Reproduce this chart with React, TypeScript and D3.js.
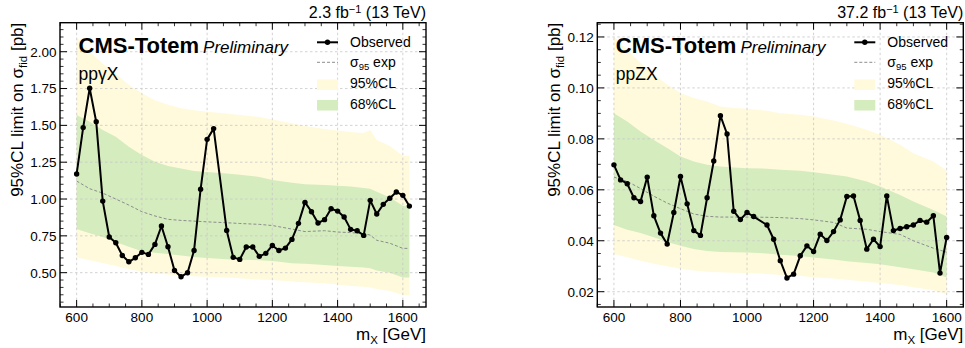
import React from "react";
import * as d3 from "d3";

// ---- ppγX (2.3 fb-1) ----
const gammaMass = [600, 620, 640, 660, 680, 700, 720, 740, 760, 780, 800, 820, 840, 860, 880, 900, 920, 940, 960, 980, 1000, 1020, 1060, 1080, 1100, 1120, 1140, 1160, 1180, 1200, 1220, 1240, 1260, 1280, 1300, 1320, 1340, 1360, 1380, 1400, 1420, 1440, 1460, 1480, 1500, 1520, 1540, 1560, 1580, 1600, 1620];
const gammaObserved = [1.17, 1.485, 1.752, 1.525, 0.986, 0.742, 0.703, 0.617, 0.574, 0.601, 0.638, 0.624, 0.692, 0.817, 0.676, 0.515, 0.472, 0.5, 0.651, 1.066, 1.405, 1.478, 0.787, 0.604, 0.59, 0.674, 0.674, 0.611, 0.631, 0.685, 0.651, 0.667, 0.726, 0.835, 0.977, 0.914, 0.837, 0.86, 0.934, 0.918, 0.878, 0.794, 0.785, 0.753, 0.991, 0.898, 0.964, 1.005, 1.048, 1.025, 0.952];
const gammaBandMass = [600, 640, 680, 720, 760, 800, 840, 880, 920, 960, 1000, 1060, 1100, 1160, 1200, 1260, 1300, 1360, 1400, 1440, 1480, 1500, 1520, 1560, 1600, 1620];
const gammaUp95 = [2.1, 2.0, 1.92, 1.85, 1.775, 1.718, 1.67, 1.64, 1.616, 1.602, 1.593, 1.58, 1.571, 1.557, 1.54, 1.514, 1.495, 1.476, 1.465, 1.455, 1.448, 1.469, 1.4, 1.36, 1.294, 1.294];
const gammaUp68 = [1.571, 1.525, 1.469, 1.423, 1.355, 1.299, 1.253, 1.224, 1.208, 1.19, 1.183, 1.174, 1.165, 1.15, 1.13, 1.11, 1.1, 1.095, 1.09, 1.085, 1.075, 1.07, 1.05, 1.01, 0.955, 0.948];
const gammaLo68 = [0.797, 0.767, 0.742, 0.708, 0.676, 0.645, 0.636, 0.626, 0.616, 0.606, 0.6, 0.591, 0.588, 0.585, 0.58, 0.564, 0.56, 0.552, 0.545, 0.54, 0.535, 0.53, 0.515, 0.5, 0.468, 0.468];
const gammaLo95 = [0.605, 0.585, 0.565, 0.545, 0.525, 0.506, 0.495, 0.487, 0.48, 0.476, 0.472, 0.468, 0.462, 0.453, 0.45, 0.44, 0.435, 0.428, 0.42, 0.41, 0.404, 0.4, 0.39, 0.375, 0.348, 0.348];
const gammaExpected = [1.122, 1.07, 1.04, 1.0, 0.959, 0.914, 0.885, 0.862, 0.855, 0.85, 0.845, 0.839, 0.834, 0.828, 0.82, 0.796, 0.779, 0.785, 0.776, 0.772, 0.765, 0.755, 0.72, 0.7, 0.665, 0.665];
const gammaYTicks = [0.5, 0.75, 1.0, 1.25, 1.5, 1.75, 2.0];

// ---- ppZX (37.2 fb-1) ----
const zMass = [600, 620, 640, 660, 680, 700, 720, 740, 760, 780, 800, 820, 840, 860, 880, 900, 920, 940, 960, 980, 1000, 1020, 1060, 1080, 1100, 1120, 1140, 1160, 1180, 1200, 1220, 1240, 1260, 1280, 1300, 1320, 1340, 1360, 1380, 1400, 1420, 1440, 1460, 1480, 1500, 1520, 1540, 1560, 1580, 1600];
const zObserved = [0.0698, 0.0639, 0.0624, 0.0569, 0.0554, 0.065, 0.0498, 0.043, 0.0387, 0.0511, 0.0652, 0.0545, 0.044, 0.0421, 0.0569, 0.0713, 0.0891, 0.0819, 0.0516, 0.0483, 0.0511, 0.0495, 0.0462, 0.0406, 0.0322, 0.0254, 0.0269, 0.0341, 0.038, 0.0358, 0.0426, 0.0401, 0.0436, 0.0482, 0.0574, 0.0576, 0.048, 0.0367, 0.0406, 0.0377, 0.0576, 0.044, 0.0448, 0.0455, 0.0462, 0.048, 0.0473, 0.0498, 0.0273, 0.0413];
const zBandMass = [600, 640, 680, 720, 760, 800, 840, 880, 920, 960, 1000, 1060, 1100, 1160, 1200, 1260, 1300, 1360, 1400, 1460, 1500, 1560, 1600];
const zUp95 = [0.1202, 0.115, 0.1098, 0.1052, 0.1013, 0.098, 0.096, 0.0947, 0.0927, 0.0921, 0.0918, 0.091, 0.0901, 0.0895, 0.0888, 0.0872, 0.0859, 0.0836, 0.0816, 0.0777, 0.0744, 0.0711, 0.0676];
const zUp68 = [0.0901, 0.0868, 0.0829, 0.0796, 0.0764, 0.0731, 0.0711, 0.0698, 0.0692, 0.0688, 0.0685, 0.0683, 0.0679, 0.0675, 0.0669, 0.0659, 0.0652, 0.0633, 0.0613, 0.058, 0.0554, 0.0521, 0.0495];
const zLo68 = [0.0462, 0.0443, 0.043, 0.0414, 0.0395, 0.038, 0.0368, 0.036, 0.0356, 0.0355, 0.0354, 0.035, 0.0345, 0.034, 0.0334, 0.0326, 0.032, 0.0313, 0.0308, 0.0296, 0.0288, 0.0275, 0.0256];
const zLo95 = [0.0348, 0.0335, 0.0322, 0.031, 0.03, 0.029, 0.0283, 0.0278, 0.0276, 0.0274, 0.0273, 0.027, 0.0266, 0.0262, 0.0257, 0.0252, 0.0247, 0.024, 0.0234, 0.0226, 0.0218, 0.0206, 0.019];
const zExpected = [0.065, 0.0633, 0.0605, 0.0575, 0.0548, 0.0526, 0.0505, 0.0496, 0.0493, 0.0493, 0.0493, 0.0492, 0.0491, 0.0487, 0.0482, 0.0472, 0.045, 0.0445, 0.0436, 0.0425, 0.04, 0.0371, 0.0355];
const zYTicks = [0.02, 0.04, 0.06, 0.08, 0.1, 0.12];

const xTicks = [600, 800, 1000, 1200, 1400, 1600];

const FONT = "'Liberation Sans', Arial, Helvetica, sans-serif";
const TOP = 22.7;
const BOTTOM = 307;
const PW = 366;
const YELLOW = "#fffadb";
const GREEN = "#d5ecbe";

type PanelProps = {
  id: string;
  x0: number;
  xDomain: [number, number];
  yDomain: [number, number];
  mass: number[];
  observed: number[];
  bandMass: number[];
  up95: number[];
  up68: number[];
  lo68: number[];
  lo95: number[];
  expected: number[];
  yTicks: number[];
  yMinor: number;
  lumi: string;
  process: string;
};

function Panel(p: PanelProps) {
  const x = d3.scaleLinear().domain(p.xDomain).range([p.x0, p.x0 + PW]);
  const y = d3.scaleLinear().domain(p.yDomain).range([BOTTOM, TOP]);
  const fmt = d3.format(".2f");

  const band = (lo: number[], hi: number[]) =>
    d3
      .area<number>()
      .x((d) => x(d))
      .y0((_, i) => y(lo[i]))
      .y1((_, i) => y(hi[i]))(p.bandMass) || "";
  const expLine =
    d3
      .line<number>()
      .x((d) => x(d))
      .y((_, i) => y(p.expected[i]))(p.bandMass) || "";
  const obsLine =
    d3
      .line<number>()
      .x((d) => x(d))
      .y((_, i) => y(p.observed[i]))(p.mass) || "";

  const xMinor = d3.range(550, p.xDomain[1], 50).filter((v) => v % 200 !== 0);
  const yMinor = d3
    .range(Math.ceil(p.yDomain[0] / p.yMinor) * p.yMinor, p.yDomain[1], p.yMinor)
    .filter((v) => !p.yTicks.some((t) => Math.abs(t - v) < 1e-6));

  const right = p.x0 + PW;
  const lx = p.x0 + 257;
  const tx = p.x0 + 290;

  return (
    <g fontFamily={FONT}>
      <defs>
        <clipPath id={p.id}>
          <rect x={p.x0} y={TOP} width={PW} height={BOTTOM - TOP} />
        </clipPath>
      </defs>
      <g clipPath={`url(#${p.id})`}>
        <path d={band(p.lo95, p.up95)} fill={YELLOW} />
        <path d={band(p.lo68, p.up68)} fill={GREEN} />
        {xTicks.map((t) => (
          <line key={"gx" + t} x1={x(t)} x2={x(t)} y1={TOP} y2={BOTTOM} stroke="#c8c8c8" strokeWidth={0.8} strokeDasharray="2.5,2.5" />
        ))}
        {p.yTicks.map((t) => (
          <line key={"gy" + t} x1={p.x0} x2={right} y1={y(t)} y2={y(t)} stroke="#c8c8c8" strokeWidth={0.8} strokeDasharray="2.5,2.5" />
        ))}
        <path d={expLine} fill="none" stroke="#8c8c8c" strokeWidth={1} strokeDasharray="3,2" />
        <path d={obsLine} fill="none" stroke="#000" strokeWidth={2} strokeLinejoin="round" />
        {p.mass.map((m, i) => (
          <circle key={"o" + m} cx={x(m)} cy={y(p.observed[i])} r={2.7} fill="#000" />
        ))}
      </g>

      {/* frame and ticks */}
      <rect x={p.x0} y={TOP} width={PW} height={BOTTOM - TOP} fill="none" stroke="#000" strokeWidth={1.4} />
      {xTicks.map((t) => (
        <g key={"tx" + t}>
          <line x1={x(t)} x2={x(t)} y1={BOTTOM} y2={BOTTOM - 7} stroke="#000" strokeWidth={1} />
          <line x1={x(t)} x2={x(t)} y1={TOP} y2={TOP + 7} stroke="#000" strokeWidth={1} />
          <text x={x(t)} y={322} fontSize={13.5} textAnchor="middle" fill="#000">
            {t}
          </text>
        </g>
      ))}
      {xMinor.map((t) => (
        <g key={"mx" + t}>
          <line x1={x(t)} x2={x(t)} y1={BOTTOM} y2={BOTTOM - 3.5} stroke="#000" strokeWidth={0.8} />
          <line x1={x(t)} x2={x(t)} y1={TOP} y2={TOP + 3.5} stroke="#000" strokeWidth={0.8} />
        </g>
      ))}
      {p.yTicks.map((t) => (
        <g key={"ty" + t}>
          <line x1={p.x0} x2={p.x0 + 7} y1={y(t)} y2={y(t)} stroke="#000" strokeWidth={1} />
          <line x1={right} x2={right - 7} y1={y(t)} y2={y(t)} stroke="#000" strokeWidth={1} />
          <text x={p.x0 - 3.5} y={y(t)} dy="0.36em" fontSize={13.5} textAnchor="end" fill="#000">
            {fmt(t)}
          </text>
        </g>
      ))}
      {yMinor.map((t) => (
        <g key={"my" + t}>
          <line x1={p.x0} x2={p.x0 + 3.5} y1={y(t)} y2={y(t)} stroke="#000" strokeWidth={0.8} />
          <line x1={right} x2={right - 3.5} y1={y(t)} y2={y(t)} stroke="#000" strokeWidth={0.8} />
        </g>
      ))}

      {/* axis labels */}
      <text transform={`translate(${p.x0 - 37},${TOP}) rotate(-90)`} textAnchor="end" fontSize={17} fill="#000">
        95%CL limit on σ<tspan fontSize={11.5} dy={3.5}>fid</tspan>
        <tspan dy={-3.5}> [pb]</tspan>
      </text>
      <text x={right} y={340} textAnchor="end" fontSize={17} fill="#000">
        m<tspan fontSize={11.5} dy={3.5}>X</tspan>
        <tspan dy={-3.5}> [GeV]</tspan>
      </text>
      <text x={right} y={18} textAnchor="end" fontSize={16} fill="#000">
        {p.lumi} fb<tspan fontSize={11} dy={-5.5}>−1</tspan>
        <tspan dy={5.5}> (13 TeV)</tspan>
      </text>

      {/* labels */}
      <text x={p.x0 + 18.5} y={53.3} fontSize={22} fontWeight="bold" fill="#000">
        CMS-Totem
        <tspan fontSize={17} fontWeight="normal" fontStyle="italic" dx={4}>
          Preliminary
        </tspan>
      </text>
      <text x={p.x0 + 18.5} y={79.5} fontSize={17.5} fill="#000">
        {p.process}
      </text>

      {/* legend */}
      <line x1={lx} x2={lx + 21} y1={42.3} y2={42.3} stroke="#000" strokeWidth={2} />
      <circle cx={lx + 10.5} cy={42.3} r={2.7} fill="#000" />
      <text x={tx} y={47} fontSize={14} fill="#000">Observed</text>
      <line x1={lx} x2={lx + 21} y1={62.3} y2={62.3} stroke="#8c8c8c" strokeWidth={1} strokeDasharray="3,2" />
      <text x={tx} y={67} fontSize={14} fill="#000">
        σ<tspan fontSize={9.5} dy={3}>95</tspan>
        <tspan dy={-3}> exp</tspan>
      </text>
      <rect x={lx} y={79.5} width={21} height={10.5} fill={YELLOW} />
      <text x={tx} y={88} fontSize={14} fill="#000">95%CL</text>
      <rect x={lx} y={100} width={21} height={10.5} fill={GREEN} />
      <text x={tx} y={108.5} fontSize={14} fill="#000">68%CL</text>
    </g>
  );
}

export default function App() {
  return (
    <svg
      width={965}
      height={348}
      viewBox="0 0 965 348"
      style={{ position: "absolute", left: 0, top: 0, background: "#fff" }}
    >
      <rect width={965} height={348} fill="#fff" />
      <Panel
        id="clipA"
        x0={60}
        xDomain={[549, 1671]}
        yDomain={[0.267, 2.197]}
        mass={gammaMass}
        observed={gammaObserved}
        bandMass={gammaBandMass}
        up95={gammaUp95}
        up68={gammaUp68}
        lo68={gammaLo68}
        lo95={gammaLo95}
        expected={gammaExpected}
        yTicks={gammaYTicks}
        yMinor={0.05}
        lumi="2.3"
        process="ppγX"
      />
      <Panel
        id="clipB"
        x0={597.3}
        xDomain={[550, 1650]}
        yDomain={[0.014, 0.1256]}
        mass={zMass}
        observed={zObserved}
        bandMass={zBandMass}
        up95={zUp95}
        up68={zUp68}
        lo68={zLo68}
        lo95={zLo95}
        expected={zExpected}
        yTicks={zYTicks}
        yMinor={0.005}
        lumi="37.2"
        process="ppZX"
      />
    </svg>
  );
}
